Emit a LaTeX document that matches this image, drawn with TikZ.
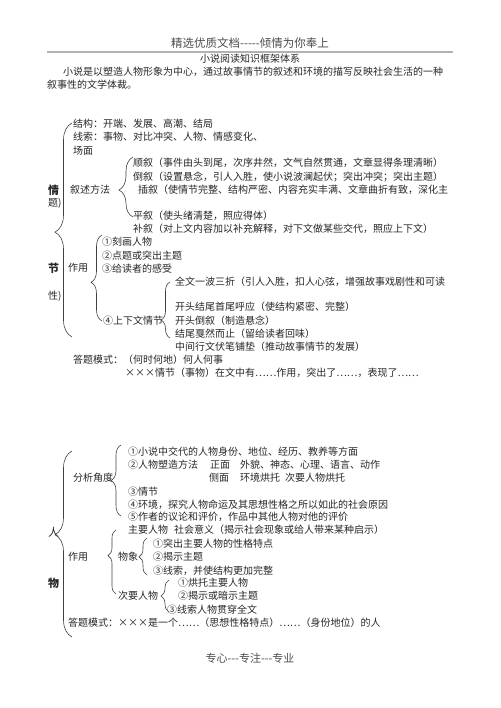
\documentclass[tikz,border=0pt]{standalone}
\usepackage{fontspec}
\usepackage{tikz}
\usetikzlibrary{decorations.pathreplacing}
\setmainfont{Noto Sans CJK SC}

\begin{document}
\begin{tikzpicture}[
    x=1pt, y=-1pt,
    txt/.style={anchor=west, inner sep=0pt, text=black!85,
        font=\fontsize{10pt}{12pt}\selectfont},
    side/.style={txt, font=\fontsize{11pt}{12pt}\selectfont\bfseries},
    hd/.style={inner sep=0pt, text=black!70,
        font=\fontsize{11.5pt}{13pt}\selectfont},
    brc/.style 2 args={draw=black!75, line width=0.6pt, decorate,
        decoration={brace, amplitude=#1, aspect=#2}}
]
\useasboundingbox (0,0) rectangle (500,708);

% header
\node[hd] (title) at (250,43) {精选优质文档-{}-{}-{}-{}-倾情为你奉上};
\coordinate (ruleL) at (47,52);
\coordinate (ruleR) at (453,52);
\draw[black!30, line width=1.5pt] (ruleL) -- (ruleR);
\node[txt, anchor=center] (head) at (250,59) {小说阅读知识框架体系};
\node[txt] (intro1) at (63,72) {小说是以塑造人物形象为中心，通过故事情节的叙述和环境的描写反映社会生活的一种};
\node[txt] (intro2) at (47,85) {叙事性的文学体裁。};

% 情节性
\node[side] (qing) at (48,190) {情};
\node[txt] (ti) at (48,203) {题)};
\node[side] (jie) at (48,268) {节};
\node[txt] (xing) at (48,296) {性)};
\node[txt] (jiegou) at (73,124) {结构：开端、发展、高潮、结局};
\node[txt] (xiansuo) at (73,137) {线索：事物、对比冲突、人物、情感变化、};
\node[txt] (changmian) at (73,151) {场面};
\node[txt] (xsff) at (70,190) {叙述方法};
\node[txt] (shunxu) at (133,163) {顺叙（事件由头到尾，次序井然，文气自然贯通，文章显得条理清晰）};
\node[txt] (daoxu) at (133,177) {倒叙（设置悬念，引人入胜，使小说波澜起伏；突出冲突；突出主题）};
\node[txt] (chaxu) at (138,190) {插叙（使情节完整、结构严密、内容充实丰满、文章曲折有致，深化主};
\node[txt] (pingxu) at (133,216) {平叙（使头绪清楚，照应得体）};
\node[txt] (buxu) at (133,229) {补叙（对上文内容加以补充解释，对下文做某些交代，照应上下文）};
\node[txt] (zuoyongA) at (68,268) {作用};
\node[txt] (zyA1) at (102,242) {①刻画人物};
\node[txt] (zyA2) at (102,256) {②点题或突出主题};
\node[txt] (zyA3) at (102,269) {③给读者的感受};
\node[txt] (zyA4) at (103,321) {④上下文情节};
\node[txt] (wen1) at (175,282) {全文一波三折（引人入胜，扣人心弦，增强故事戏剧性和可读};
\node[txt] (wen2) at (175,307) {开头结尾首尾呼应（使结构紧密、完整）};
\node[txt] (wen3) at (175,321) {开头倒叙（制造悬念）};
\node[txt] (wen4) at (175,334) {结尾戛然而止（留给读者回味）};
\node[txt] (wen5) at (175,347) {中间行文伏笔铺垫（推动故事情节的发展）};
\node[txt] (moshiA1) at (73,360) {答题模式：（何时何地）何人何事};
\node[txt] (moshiA2) at (125,373) {×××情节（事物）在文中有……作用，突出了……，表现了……};

\coordinate (qjBot) at (72,337);   \coordinate (qjTop) at (72,123);
\coordinate (xsBot) at (133,217);  \coordinate (xsTop) at (133,157);
\coordinate (zaBot) at (102,321);  \coordinate (zaTop) at (102,235);
\coordinate (swBot) at (170,338);  \coordinate (swTop) at (170,282);
\draw[brc={17pt}{0.49}] (qjBot) -- (qjTop);
\draw[brc={14pt}{0.45}] (xsBot) -- (xsTop);
\draw[brc={11pt}{0.45}] (zaBot) -- (zaTop);
\draw[brc={9pt}{0.32}] (swBot) -- (swTop);

% 人物
\node[txt, font=\fontsize{11pt}{12pt}\selectfont] (ren) at (48,532) {人};
\node[side] (wu) at (48,583) {物};
\node[txt] (fxjd) at (73,478) {分析角度};
\node[txt] (fx1) at (128,452) {①小说中交代的人物身份、地位、经历、教养等方面};
\node[txt] (fx2) at (128,465) {②人物塑造方法};
\node[txt] (zhengmian) at (210,465) {正面};
\node[txt] (zmText) at (240,465) {外貌、神态、心理、语言、动作};
\node[txt] (cemian) at (209,478) {侧面};
\node[txt] (cmEnv) at (240,478) {环境烘托};
\node[txt] (cmRole) at (285,478) {次要人物烘托};
\node[txt] (fx3) at (128,492) {③情节};
\node[txt] (fx4) at (128,505) {④环境，探究人物命运及其思想性格之所以如此的社会原因};
\node[txt] (fx5) at (128,517) {⑤作者的议论和评价，作品中其他人物对他的评价};
\node[txt] (zuoyongB) at (68,557) {作用};
\node[txt] (zhuyao) at (128,530) {主要人物};
\node[txt] (shehui) at (174,530) {社会意义（揭示社会现象或给人带来某种启示）};
\node[txt] (wuxiang) at (118,557) {物象};
\node[txt] (wx1) at (153,544) {①突出主要人物的性格特点};
\node[txt] (wx2) at (153,557) {②揭示主题};
\node[txt] (wx3) at (153,571) {③线索，并使结构更加完整};
\node[txt] (ciyao) at (118,596) {次要人物};
\node[txt] (cy1) at (178,583) {①烘托主要人物};
\node[txt] (cy2) at (178,596) {②揭示或暗示主题};
\node[txt] (cy3) at (167,610) {③线索人物贯穿全文};
\node[txt] (moshiB) at (68,623) {答题模式：×××是一个……（思想性格特点）……（身份地位）的人};

\coordinate (rwBot) at (72,637);   \coordinate (rwTop) at (72,451);
\coordinate (fxBot) at (121,516);  \coordinate (fxTop) at (121,445);
\coordinate (zbBot) at (116,594);  \coordinate (zbTop) at (116,530);
\coordinate (wxBot) at (147,575);  \coordinate (wxTop) at (147,538);
\coordinate (cyBot) at (169,612);  \coordinate (cyTop) at (169,580);
\draw[brc={17pt}{0.55}] (rwBot) -- (rwTop);
\draw[brc={10pt}{0.5}] (fxBot) -- (fxTop);
\draw[brc={8pt}{0.6}] (zbBot) -- (zbTop);
\draw[brc={8pt}{0.49}] (wxBot) -- (wxTop);
\draw[brc={8pt}{0.5}] (cyBot) -- (cyTop);

% footer
\node[hd, font=\fontsize{11pt}{13pt}\selectfont] (foot) at (250,658) {专心-{}-{}-专注-{}-{}-专业};
\end{tikzpicture}
\end{document}
